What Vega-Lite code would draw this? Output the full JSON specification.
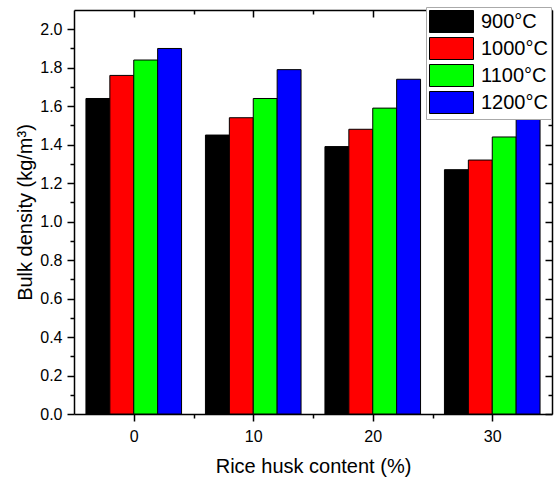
{
  "$schema": "https://vega.github.io/schema/vega-lite/v6.json",
  "width": 478,
  "height": 404,
  "autosize": "none",
  "padding": {"left": 74, "top": 10, "right": 3, "bottom": 67},
  "config": {
    "view": {"stroke": null},
    "font": "Liberation Sans",
    "axis": {"grid": false, "labelFont": "Liberation Sans", "titleFont": "Liberation Sans", "labelColor": "#000", "titleColor": "#000", "tickColor": "#000", "domainColor": "#000", "tickWidth": 1.5, "domainWidth": 1.5, "labelFontSize": 16, "titleFontSize": 20, "titleFontWeight": "normal"}
  },
  "data": {
    "values": [
      {"content": 0, "temp": "900°C", "density": 1.64},
      {"content": 0, "temp": "1000°C", "density": 1.76},
      {"content": 0, "temp": "1100°C", "density": 1.84},
      {"content": 0, "temp": "1200°C", "density": 1.90},
      {"content": 10, "temp": "900°C", "density": 1.45},
      {"content": 10, "temp": "1000°C", "density": 1.54},
      {"content": 10, "temp": "1100°C", "density": 1.64},
      {"content": 10, "temp": "1200°C", "density": 1.79},
      {"content": 20, "temp": "900°C", "density": 1.39},
      {"content": 20, "temp": "1000°C", "density": 1.48},
      {"content": 20, "temp": "1100°C", "density": 1.59},
      {"content": 20, "temp": "1200°C", "density": 1.74},
      {"content": 30, "temp": "900°C", "density": 1.27},
      {"content": 30, "temp": "1000°C", "density": 1.32},
      {"content": 30, "temp": "1100°C", "density": 1.44},
      {"content": 30, "temp": "1200°C", "density": 1.55}
    ]
  },
  "resolve": {
    "scale": {"x": "independent", "y": "independent"},
    "axis": {"x": "independent", "y": "independent"}
  },
  "layer": [
    {
      "mark": {"type": "bar", "stroke": "#000", "strokeWidth": 1},
      "encoding": {
        "x": {"field": "content", "type": "ordinal", "axis": null, "scale": {"paddingInner": 0.2, "paddingOuter": 0.1}},
        "xOffset": {"field": "temp", "type": "nominal", "sort": ["900°C", "1000°C", "1100°C", "1200°C"]},
        "y": {"field": "density", "type": "quantitative", "axis": null, "scale": {"domain": [0, 2.1], "nice": false}},
        "color": {
          "field": "temp", "type": "nominal",
          "sort": ["900°C", "1000°C", "1100°C", "1200°C"],
          "scale": {"domain": ["900°C", "1000°C", "1100°C", "1200°C"], "range": ["#000000", "#ff0000", "#00ff00", "#0000ff"]},
          "legend": {
            "title": null, "orient": "none", "legendX": 352, "legendY": -3,
            "symbolType": "M-1,-1H3V1H-1Z", "symbolSize": 484,
            "symbolStrokeColor": "#000", "symbolStrokeWidth": 1, "symbolOpacity": 1,
            "labelFont": "Liberation Sans", "labelFontSize": 20, "labelColor": "#000", "labelOffset": 29,
            "rowPadding": 0, "padding": 3, "strokeColor": "#aaaaaa", "fillColor": "#ffffff"
          }
        }
      }
    },
    {
      "mark": {"type": "point", "opacity": 0},
      "encoding": {
        "x": {"field": "content", "type": "quantitative", "scale": {"domain": [-5, 35], "nice": false},
          "axis": {"orient": "bottom", "values": [0, 10, 20, 30], "tickSize": 7, "labelPadding": 7, "title": "Rice husk content (%)", "titlePadding": 12}},
        "y": {"field": "density", "type": "quantitative", "scale": {"domain": [0, 2.1], "nice": false},
          "axis": {"orient": "left", "values": [0, 0.2, 0.4, 0.6, 0.8, 1.0, 1.2, 1.4, 1.6, 1.8, 2.0], "format": ".1f", "tickSize": 7, "labelPadding": 5, "title": "Bulk density (kg/m³)", "titlePadding": 4}}
      }
    },
    {
      "mark": {"type": "point", "opacity": 0},
      "encoding": {
        "x": {"field": "content", "type": "quantitative", "scale": {"domain": [-5, 35], "nice": false},
          "axis": {"orient": "bottom", "values": [5, 15, 25], "tickSize": 4, "labels": false, "domain": false, "title": null}},
        "y": {"field": "density", "type": "quantitative", "scale": {"domain": [0, 2.1], "nice": false},
          "axis": {"orient": "left", "values": [0.1, 0.3, 0.5, 0.7, 0.9, 1.1, 1.3, 1.5, 1.7, 1.9], "tickSize": 4, "labels": false, "domain": false, "title": null}}
      }
    },
    {
      "mark": {"type": "point", "opacity": 0},
      "encoding": {
        "x": {"field": "content", "type": "quantitative", "scale": {"domain": [-5, 35], "nice": false},
          "axis": {"orient": "top", "values": [0, 10, 20, 30], "tickSize": -7, "labels": false, "title": null}},
        "y": {"field": "density", "type": "quantitative", "scale": {"domain": [0, 2.1], "nice": false},
          "axis": {"orient": "right", "values": [0, 0.2, 0.4, 0.6, 0.8, 1.0, 1.2, 1.4, 1.6, 1.8, 2.0], "tickSize": -7, "labels": false, "title": null}}
      }
    },
    {
      "mark": {"type": "point", "opacity": 0},
      "encoding": {
        "x": {"field": "content", "type": "quantitative", "scale": {"domain": [-5, 35], "nice": false},
          "axis": {"orient": "top", "values": [5, 15, 25], "tickSize": -4, "labels": false, "domain": false, "title": null}},
        "y": {"field": "density", "type": "quantitative", "scale": {"domain": [0, 2.1], "nice": false},
          "axis": {"orient": "right", "values": [0.1, 0.3, 0.5, 0.7, 0.9, 1.1, 1.3, 1.5, 1.7, 1.9], "tickSize": -4, "labels": false, "domain": false, "title": null}}
      }
    }
  ]
}
